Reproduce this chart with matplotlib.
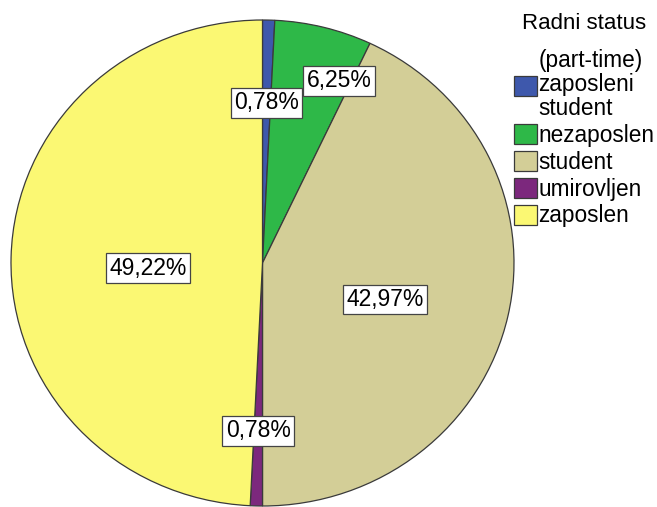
import numpy as np
import matplotlib
matplotlib.use('Agg')
import matplotlib.pyplot as plt

# Podaci (n = 128)
kategorije = ['(part-time)\nzaposleni\nstudent', 'nezaposlen', 'student', 'umirovljen', 'zaposlen']
postoci = [0.78, 6.25, 42.97, 0.78, 49.22]
oznake = ['0,78%', '6,25%', '42,97%', '0,78%', '49,22%']
boje = ['#3E58AC', '#2EB848', '#D3CE97', '#7C287D', '#FBF873']

# udaljenost oznake od sredista i pomak kuta (stupnjevi)
udaljenost = [0.66, 0.81, 0.51, 0.69, 0.455]
pomak_kuta = [0, -8, -4.5, 0, 4]

plt.rcParams['font.family'] = ['Liberation Sans', 'DejaVu Sans']

fig = plt.figure(figsize=(6.57, 5.07), dpi=100)
ax = fig.add_axes([11 / 657, 1 / 507, 503 / 657, 486 / 507])

wedges, _ = ax.pie(postoci, colors=boje, startangle=90, counterclock=False,
                   wedgeprops=dict(edgecolor='#3a3a3a', linewidth=0.9))
ax.set_aspect('auto')
ax.set_xlim(-1, 1)
ax.set_ylim(-1, 1)
ax.axis('off')

# oznake postotaka
for w, txt, r, dk in zip(wedges, oznake, udaljenost, pomak_kuta):
    kut = np.deg2rad((w.theta1 + w.theta2) / 2 + dk)
    ax.text(r * np.cos(kut), r * np.sin(kut), txt, ha='center', va='center',
            fontsize=16.5, color='black',
            bbox=dict(boxstyle='square,pad=0.15', fc='white', ec='#444444', lw=0.9))

leg = fig.legend(wedges, kategorije, title='Radni status', loc='upper left',
                 bbox_to_anchor=(514 / 657, 1 - 13 / 507), frameon=False,
                 fontsize=16.3, title_fontsize=16, handlelength=1.0, handleheight=1.0,
                 handletextpad=0.08, labelspacing=0.17, borderpad=0, borderaxespad=0)
leg.get_texts()[0].set_linespacing(1.05)
leg._legend_box.sep = 11

fig.savefig('out.png', dpi=100)
